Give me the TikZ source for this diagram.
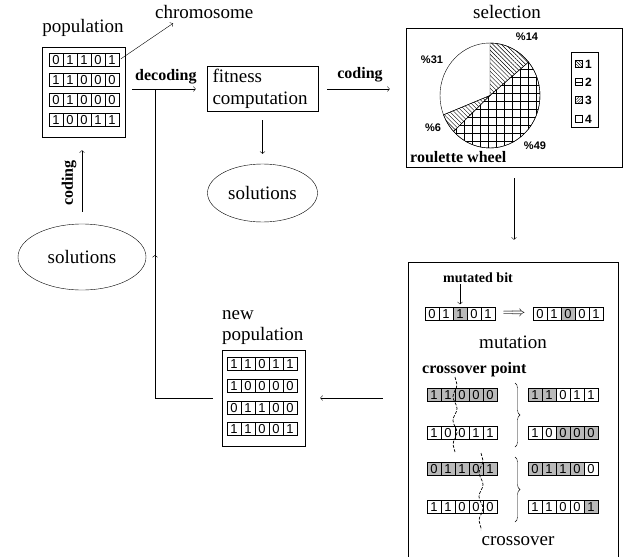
\documentclass[tikz,border=0pt]{standalone}
\usepackage{fontspec}
\setmainfont{Liberation Serif}
\setsansfont{Liberation Sans}
\usetikzlibrary{positioning, shapes.geometric, arrows.meta, patterns.meta, decorations.pathreplacing, decorations.pathmorphing}

% one chromosome: name, left x, centre y, bits, shaded cells (0 = none)
\newcommand\chrom[5]{%
  \foreach \s in {#5}{\ifnum\s>0 \fill[cellshade] ({#2+(\s-1)*14},{#3-6.5}) rectangle ++(14,13);\fi}
  \foreach \b [count=\i] in {#4}{%
    \node[bitcell] (#1-\i) at ({#2+(\i-0.5)*14},#3) {\b};}
}

\begin{document}
\begin{tikzpicture}[x=1pt, y=-1pt,
    frame/.style={draw, line width=0.6pt, inner sep=0pt},
    bitcell/.style={draw, minimum width=14pt, minimum height=13pt, inner sep=0pt,
      font=\sffamily\fontsize{13}{13}\selectfont},
    cellshade/.style={fill=gray!55},
    title/.style={font=\fontsize{19}{21}\selectfont, inner sep=0pt},
    steplabel/.style={font=\bfseries\fontsize{16}{18}\selectfont, inner sep=0pt},
    pct/.style={font=\sffamily\bfseries\fontsize{11}{12}\selectfont, inner sep=0pt},
    solbox/.style={draw, ellipse, inner sep=0pt, font=\fontsize{19}{21}\selectfont},
    xpoint/.style={dash pattern=on 3pt off 1.5pt, line width=0.7pt, decorate,
      decoration={snake, amplitude=2pt, segment length=24pt}}
  ]
  \useasboundingbox (0,0) rectangle (625,557);

  % population
  \node[title, anchor=base] (popT) at (83,32) {population};
  \node[frame, minimum width=83pt, minimum height=90pt] (pop) at (83.5,92) {};
  \chrom{p1}{49}{60}{0,1,1,0,1}{0}
  \chrom{p2}{49}{80}{1,1,0,0,0}{0}
  \chrom{p3}{49}{100}{0,1,0,0,0}{0}
  \chrom{p4}{49}{120}{1,0,0,1,1}{0}
  \node[title, anchor=base west] (chromo) at (155,18) {chromosome};
  \draw[->, shorten <=2pt] (p1-5.east) -- ([xshift=18pt,yshift=-5pt]chromo.south west);

  % fitness
  \node[frame, align=left, text width=100pt, inner xsep=5.5pt, inner ysep=3pt,
    font=\fontsize{19}{22}\selectfont] (fit) at (262.5,89) {fitness\\computation};
  \node[steplabel, anchor=base west] (deco) at (135,80) {decoding};
  \coordinate (feed) at (155,255);
  \coordinate (join) at (feed |- fit.west);
  \draw[->, shorten <=7pt, shorten >=11pt] (pop.east |- fit.west) -- (fit.west);
  \node[solbox, minimum width=110pt, minimum height=58pt] (sol) at (262.5,193) {solutions};
  \draw[->, shorten <=8pt, shorten >=10pt] (fit.south) -- (sol.north);

  % solutions and coding
  \node[solbox, minimum width=128pt, minimum height=66pt] (soln) at (82,257) {solutions};
  \draw[->, shorten <=12pt, shorten >=13pt] (soln.north) -- (soln.north |- pop.south);
  \node[steplabel, rotate=90] (codeL) at (69,183) {coding};

  % selection
  \node[title, anchor=base] (selT) at (507,18) {selection};
  \node[frame, minimum width=216pt, minimum height=139pt] (sel) at (514,97.5) {};
  \node[steplabel, anchor=base] (codeT) at (360,78) {coding};
  \draw[->, shorten <=9pt, shorten >=16pt] (fit.east) -- (fit.east -| sel.west);
  \coordinate (pie) at (490,95.5);
  \draw[fill=white] (pie) ellipse[x radius=50, y radius=52.5];
  \draw[pattern={Lines[angle=-45,distance=3pt]}] (pie) -- ++(0,-52.5)
    arc[start angle=-90, end angle=-39.6, x radius=50, y radius=52.5] -- cycle;
  \draw[pattern={Hatch[distance=8pt]}] (pie) -- ++({50*cos(-39.6)},{52.5*sin(-39.6)})
    arc[start angle=-39.6, end angle=136.8, x radius=50, y radius=52.5] -- cycle;
  \draw[pattern={Lines[angle=-45,distance=3pt]}] (pie) -- ++({50*cos(136.8)},{52.5*sin(136.8)})
    arc[start angle=136.8, end angle=158.4, x radius=50, y radius=52.5] -- cycle;
  \draw (pie) -- ++({50*cos(158.4)},{52.5*sin(158.4)});
  \node[pct] (p14) at (527,37) {\%14};
  \node[pct] (p31) at (432,60) {\%31};
  \node[pct] (p6) at (433,128) {\%6};
  \node[pct] (p49) at (535,146) {\%49};
  \node[steplabel, anchor=base west] (wheel) at (410,162) {roulette wheel};
  \node[frame, minimum width=27pt, minimum height=75pt] (leg) at (584.5,89.5) {};
  \draw[pattern={Lines[angle=-45,distance=2pt]}] (575,60.5) rectangle ++(7,7);
  \draw (575,78.5) rectangle ++(7,7) (575,82) -- ++(7,0);
  \draw[pattern={Lines[angle=45,distance=2pt]}] (575,96.5) rectangle ++(7,7);
  \draw (575,115.5) rectangle ++(7,7);
  \foreach \n/\y in {1/64,2/82,3/100,4/119}
    \node[pct, font=\sffamily\bfseries\fontsize{12}{12}\selectfont, anchor=west] (leg\n) at (585,\y) {\n};

  % mutation and crossover
  \node[frame, minimum width=210pt, minimum height=300pt] (ops) at (513,412) {};
  \draw[->, shorten <=11pt, shorten >=22pt] (sel.south) -- (sel.south |- ops.north);
  \node[steplabel, font=\bfseries\fontsize{14}{16}\selectfont, anchor=base west] (mutB) at (443,282) {mutated bit};
  \chrom{mutL}{425}{314}{0,1,1,0,1}{3}
  \chrom{mutR}{533}{314}{0,1,0,0,1}{3}
  \draw[->, shorten <=2pt, shorten >=3pt] (mutB.south -| mutL-3) -- (mutL-3.north);
  \node[font=\fontsize{14}{14}\selectfont, inner sep=0pt] (mutArr) at (514,314) {$\Longrightarrow$};
  \node[title, anchor=base] (mutT) at (513,348) {mutation};
  \node[steplabel, anchor=base west] (xoT) at (422,373) {crossover point};
  \chrom{xa}{427}{395}{1,1,0,0,0}{1,2,3,4,5}
  \chrom{xb}{427}{433}{1,0,0,1,1}{0}
  \chrom{xc}{427}{469}{0,1,1,0,1}{1,2,3,4,5}
  \chrom{xd}{427}{507}{1,1,0,0,0}{0}
  \chrom{ya}{528}{395}{1,1,0,1,1}{1,2}
  \chrom{yb}{528}{433}{1,0,0,0,0}{3,4,5}
  \chrom{yc}{528}{469}{0,1,1,0,0}{1,2,3,4}
  \chrom{yd}{528}{507}{1,1,0,0,1}{5}
  \draw[xpoint] (455,377) -- (455,452);
  \draw[xpoint] (481,453) -- (481,530);
  \draw[decorate, decoration={brace, amplitude=5pt}] (515,383) -- (515,447);
  \draw[decorate, decoration={brace, amplitude=5pt}] (515,457) -- (515,522);
  \node[title, anchor=base] (xoB) at (518,545) {crossover};

  % new population
  \node[title, align=left, anchor=base west] (newT) at (222,340) {new\\population};
  \node[frame, minimum width=83pt, minimum height=96pt] (newpop) at (263.5,398) {};
  \chrom{n1}{227}{364}{1,1,0,1,1}{0}
  \chrom{n2}{227}{386}{1,0,0,0,0}{0}
  \chrom{n3}{227}{408}{0,1,1,0,0}{0}
  \chrom{n4}{227}{429}{1,1,0,0,1}{0}
  \draw[->, shorten <=25pt, shorten >=15pt] (ops.west |- newpop.east) -- (newpop.east);
  \draw[->, shorten <=9pt] (newpop.west) -| (feed);
  \draw (feed) -- (join);
\end{tikzpicture}
\end{document}
